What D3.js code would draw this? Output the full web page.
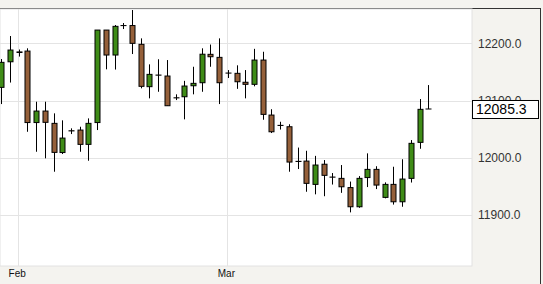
<!DOCTYPE html>
<html>
<head>
<meta charset="utf-8">
<script src="https://cdn.jsdelivr.net/npm/d3@7"></script>
<style>
  body { margin: 0; background: #f4f3ef; }
  svg { display: block; font-family: "Liberation Sans", Arial, sans-serif; }
</style>
</head>
<body>
<svg id="chart" width="543" height="284"></svg>
<script>
// daily candles, index 0..49
var opens  = [12123.1, 12167.8, 12185.0, 12186.5, 12061.6, 12081.7, 12060.2, 12009.2, 12047.3, 12048.5,
              12023.5, 12061.6, 12223.2, 12179.6, 12231.1, 12231.1, 12198.3, 12124.3, 12144.6, 12142.9,
              12104.9, 12106.7, 12125.9, 12131.2, 12180.8, 12175.5, 12148.1, 12147.6, 12132.0, 12128.4,
              12170.8, 12074.7, 12056.7, 12054.3, 11993.8, 11994.3, 11953.6, 11988.8, 11966.4, 11964.1,
              11948.0, 11914.5, 11965.5, 11979.8, 11930.9, 11953.6, 11923.2, 11964.1, 12027.0, 12085.3];
var highs  = [12172.6, 12212.8, 12189.2, 12191.3, 12098.0, 12098.0, 12077.7, 12065.5, 12051.5, 12054.3,
              12068.9, 12223.2, 12223.2, 12232.0, 12235.5, 12258.2, 12208.7, 12163.3, 12172.2, 12170.8,
              12110.9, 12134.5, 12159.1, 12191.3, 12197.9, 12208.7, 12153.3, 12161.6, 12153.3, 12190.4,
              12185.3, 12084.9, 12063.0, 12058.6, 12017.9, 12012.3, 12003.4, 11996.1, 11973.4, 11987.4,
              11958.5, 11968.1, 12007.8, 11985.3, 11957.1, 11984.4, 11997.5, 12031.0, 12102.7, 12127.1];
var lows   = [12093.9, 12131.5, 12176.9, 12045.5, 12010.6, 11999.1, 11975.7, 12006.6, 12041.5, 12010.6,
              11994.9, 12048.5, 12154.6, 12154.2, 12225.0, 12181.3, 12121.4, 12103.9, 12115.4, 12091.0,
              12100.9, 12067.2, 12110.9, 12115.4, 12159.1, 12093.9, 12139.4, 12120.5, 12103.9, 12124.9,
              12066.5, 12043.3, 12049.4, 11975.7, 11980.4, 11940.7, 11936.2, 11932.9, 11953.3, 11938.8,
              11904.7, 11912.7, 11948.9, 11945.4, 11929.2, 11918.3, 11914.5, 11956.8, 12015.8, 12085.3];
var closes = [12166.8, 12188.3, 12184.0, 12061.6, 12081.7, 12062.0, 12009.5, 12034.5, 12047.0, 12023.5,
              12060.2, 12223.2, 12179.6, 12229.7, 12231.0, 12200.0, 12124.9, 12145.8, 12144.4, 12091.0,
              12104.7, 12125.4, 12130.1, 12181.0, 12176.6, 12131.2, 12148.0, 12132.9, 12128.4, 12170.8,
              12075.9, 12045.5, 12056.5, 11992.6, 11993.6, 11955.4, 11987.4, 11969.4, 11966.2, 11949.4,
              11914.5, 11964.1, 11979.8, 11952.4, 11953.6, 11923.2, 11962.9, 12025.3, 12084.7, 12085.3];

var yTicks = [11900, 12000, 12100, 12200];
var monthIdx = [2, 26];
var monthLabels = ["Feb", "Mar"];
var lastPrice = 12085.3;

var svg = d3.select("#chart");
var plotL = 0, plotR = 472, plotT = 9, plotB = 266;

var x = d3.scaleLinear().domain([0, 49]).range([1.3, 428.3]);
var y = d3.scaleLinear().domain([11811, 12260]).range([plotB, plotT]);

// frame
svg.append("line").attr("x1", 0).attr("x2", 541).attr("y1", 8.5).attr("y2", 8.5)
  .attr("stroke", "#333");
svg.append("line").attr("x1", 540.5).attr("x2", 540.5).attr("y1", 8).attr("y2", 284)
  .attr("stroke", "#333");
svg.append("rect").attr("x", plotL).attr("y", plotT).attr("width", plotR - plotL).attr("height", plotB - plotT)
  .attr("fill", "#fff").attr("stroke", "#e2e2e2");

// grid
svg.append("g").selectAll("line").data(yTicks).enter().append("line")
  .attr("x1", plotL).attr("x2", plotR)
  .attr("y1", function(d) { return Math.round(y(d)) + 0.5; })
  .attr("y2", function(d) { return Math.round(y(d)) + 0.5; })
  .attr("stroke", "#e4e4e4");
svg.append("g").selectAll("line").data(monthIdx).enter().append("line")
  .attr("x1", function(d) { return Math.round(x(d)) - 0.5; })
  .attr("x2", function(d) { return Math.round(x(d)) - 0.5; })
  .attr("y1", plotT).attr("y2", plotB)
  .attr("stroke", "#e4e4e4");

// axes
var yAxis = d3.axisRight(y).tickValues(yTicks).tickSize(0).tickPadding(6)
  .tickFormat(d3.format(".1f"));
var gy = svg.append("g").attr("transform", "translate(" + plotR + ",0)").call(yAxis);
gy.select(".domain").remove();
gy.selectAll("text").attr("font-size", 12).attr("fill", "#333")
  .attr("font-family", "Liberation Sans, Arial, sans-serif");

var xAxis = d3.axisBottom(x).tickValues(monthIdx).tickSize(0).tickPadding(4)
  .tickFormat(function(d, i) { return monthLabels[i]; });
var gx = svg.append("g").attr("transform", "translate(-2," + plotB + ")").call(xAxis);
gx.select(".domain").remove();
gx.selectAll("text").attr("font-size", 10).attr("fill", "#111")
  .attr("font-family", "Liberation Sans, Arial, sans-serif");

// candles
var candles = svg.append("g").selectAll("g").data(d3.range(opens.length)).enter().append("g");
candles.append("line")
  .attr("x1", function(i) { return Math.round(x(i)) + 0.5; })
  .attr("x2", function(i) { return Math.round(x(i)) + 0.5; })
  .attr("y1", function(i) { return y(highs[i]); })
  .attr("y2", function(i) { return y(lows[i]); })
  .attr("stroke", "#000").attr("stroke-width", 1);
candles.append("rect")
  .attr("x", function(i) { return Math.round(x(i)) - 2; })
  .attr("width", 5)
  .attr("y", function(i) { return y(Math.max(opens[i], closes[i])); })
  .attr("height", function(i) { return Math.max(0.01, Math.abs(y(opens[i]) - y(closes[i]))); })
  .attr("fill", function(i) { return closes[i] > opens[i] ? "#3f8c17" : "#95603a"; })
  .attr("stroke", "#000").attr("stroke-width", 1);

// last price box
svg.append("rect").attr("x", 472.5).attr("y", y(lastPrice) - 8.5).attr("width", 66).attr("height", 18)
  .attr("fill", "#fff").attr("stroke", "#000");
svg.append("text").attr("x", 476).attr("y", y(lastPrice) + 5)
  .attr("font-size", 14).attr("fill", "#000").text(d3.format(".1f")(lastPrice));
</script>
</body>
</html>
